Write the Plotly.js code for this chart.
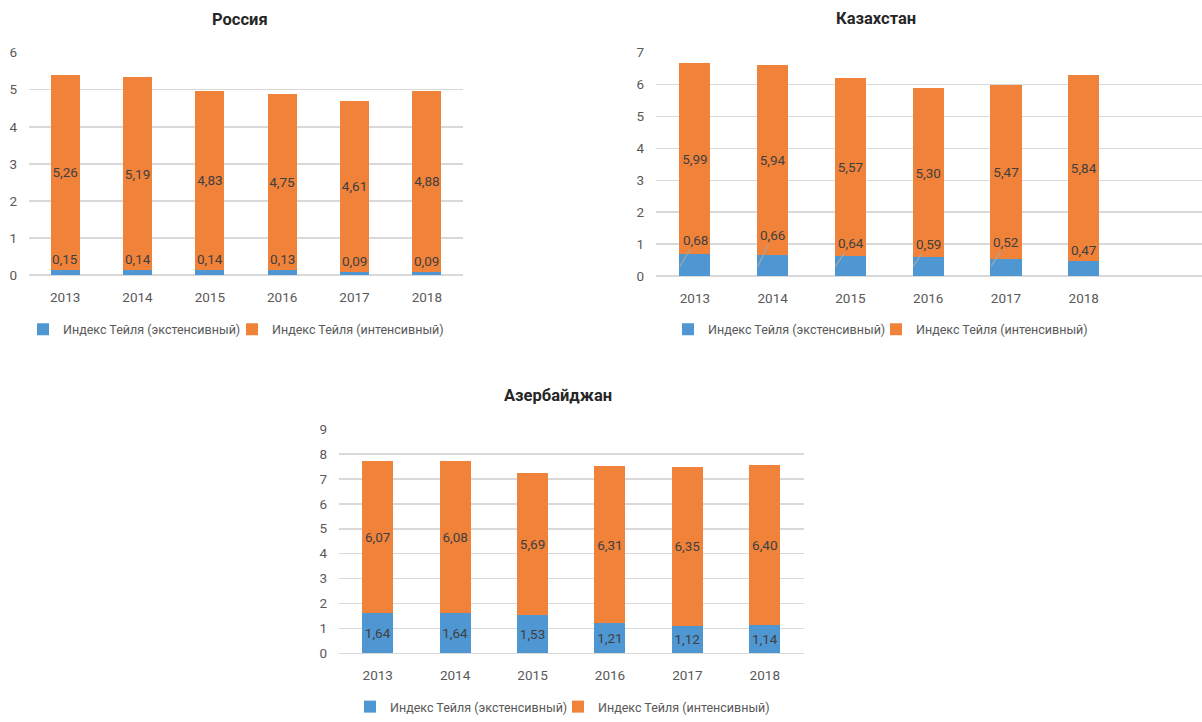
<!DOCTYPE html>
<html>
<head>
<meta charset="utf-8">
<script src="https://cdn.plot.ly/plotly-3.0.1.min.js"></script>
<style>html,body{margin:0;padding:0;background:#fff;}#chart{width:1202px;height:722px;}</style>
</head>
<body>
<div id="chart"></div>
<script>
// ---- data ----
const years = ["2013", "2014", "2015", "2016", "2017", "2018"];
const seriesNames = ["Индекс Тейля (экстенсивный)", "Индекс Тейля (интенсивный)"];
const chartTitles = ["Россия", "Казахстан", "Азербайджан"];
const russiaExt = [0.15, 0.14, 0.14, 0.13, 0.09, 0.09];
const russiaInt = [5.26, 5.19, 4.83, 4.75, 4.61, 4.88];
const kazakhExt = [0.68, 0.66, 0.64, 0.59, 0.52, 0.47];
const kazakhInt = [5.99, 5.94, 5.57, 5.30, 5.47, 5.84];
const azerExt = [1.64, 1.64, 1.53, 1.21, 1.12, 1.14];
const azerInt = [6.07, 6.08, 5.69, 6.31, 6.35, 6.40];

// ---- styles ----
const BLUE = '#4F97D2', ORANGE = '#F0823A';
const FONT = 'Roboto, "Open Sans", sans-serif';
const LABEL = '#404040', TICK = '#595959', GRID = '#D9D9D9';
const W = 1202, H = 722;
const LBL = 13.5, TCK = 13.5;
const kzLift = [26, 31, 23, 22, 24]; // px offsets of leader-line labels (Kazakhstan)

function fmt(v) { return v.toFixed(2).replace('.', ','); }

function barPair(ext, int, xa, ya, legs, extText) {
  return [
    {type: 'bar', name: seriesNames[0], x: years, y: ext, xaxis: xa, yaxis: ya, legend: legs[0],
     marker: {color: BLUE}, width: 0.4,
     texttemplate: extText ? '%{y:.2f}' : '', textposition: extText ? 'inside' : 'none',
     insidetextanchor: 'middle', textangle: 0, constraintext: 'none',
     insidetextfont: {family: FONT, size: LBL, color: LABEL}, hoverinfo: 'x+y'},
    {type: 'bar', name: seriesNames[1], x: years, y: int, xaxis: xa, yaxis: ya, legend: legs[1],
     marker: {color: ORANGE}, width: 0.4,
     texttemplate: '%{y:.2f}', textposition: 'inside', insidetextanchor: 'middle', textangle: 0,
     constraintext: 'none',
     insidetextfont: {family: FONT, size: LBL, color: LABEL}, hoverinfo: 'x+y'}
  ];
}

const data = [].concat(
  barPair(russiaExt, russiaInt, 'x', 'y', ['legend', 'legend2'], false),
  barPair(kazakhExt, kazakhInt, 'x2', 'y2', ['legend3', 'legend4'], false),
  barPair(azerExt, azerInt, 'x3', 'y3', ['legend5', 'legend6'], true)
);

function xax(domain, range, anchor) {
  return {domain: domain, anchor: anchor, type: 'category', range: range, showgrid: false, zeroline: false,
          showline: false, ticks: '', ticklabelstandoff: 12,
          tickfont: {family: FONT, size: TCK, color: TICK}, fixedrange: true};
}
function yax(domain, range, anchor) {
  return {domain: domain, anchor: anchor, range: range, dtick: 1, showgrid: true, gridcolor: GRID, gridwidth: 1.5,
          zeroline: true, zerolinecolor: GRID, zerolinewidth: 1.5, showline: false, ticks: '',
          ticklabelstandoff: 11, tickfont: {family: FONT, size: TCK, color: TICK}, fixedrange: true};
}

const annotations = [];
// titles
const titlePos = [[240, 20], [876, 19], [558, 398]];
chartTitles.forEach((t, i) => annotations.push({
  xref: 'paper', yref: 'paper', x: titlePos[i][0] / W, y: 1 - titlePos[i][1] / H,
  xanchor: 'center', yanchor: 'middle', showarrow: false, text: '<b>' + t + '</b>',
  font: {family: FONT, size: 16.5, color: '#262626'}
}));
// Russia small-segment labels
russiaExt.forEach((v, i) => annotations.push({
  xref: 'x', yref: 'y', x: i, y: v, yshift: 11, yanchor: 'middle', showarrow: false,
  text: fmt(v), font: {family: FONT, size: LBL, color: LABEL}
}));
// Kazakhstan small-segment labels with leader lines
kazakhExt.forEach((v, i) => {
  if (i < kzLift.length) {
    annotations.push({
      xref: 'x2', yref: 'y2', x: i - 0.19, y: 0.31, ax: 15, ay: -kzLift[i],
      showarrow: true, arrowhead: 0, arrowwidth: 1.2, arrowcolor: '#A6A6A6', standoff: 0,
      text: fmt(v), font: {family: FONT, size: LBL, color: LABEL}
    });
  } else {
    annotations.push({
      xref: 'x2', yref: 'y2', x: i, y: v, yshift: 11, yanchor: 'middle', showarrow: false,
      text: fmt(v), font: {family: FONT, size: LBL, color: LABEL}
    });
  }
});

function legend(textStart, yPx) {
  return {orientation: 'h', x: (textStart - 37) / W, y: 1 - yPx / H, xanchor: 'left', yanchor: 'middle',
          bgcolor: 'rgba(0,0,0,0)', font: {family: FONT, size: 12.5, color: TICK}, itemwidth: 30,
          itemclick: false, itemdoubleclick: false};
}

const layout = {
  width: W, height: H,
  margin: {l: 0, r: 0, t: 0, b: 0},
  paper_bgcolor: '#fff', plot_bgcolor: '#fff',
  barmode: 'stack', separators: ', ',
  showlegend: true,
  font: {family: FONT, color: TICK},
  xaxis: xax([29 / W, 463 / W], [-0.5, 5.5], 'y'),
  yaxis: yax([1 - 277 / H, 1 - 53 / H], [0, 6], 'x'),
  xaxis2: xax([656 / W, 1], [-0.5, 6.52], 'y2'),
  yaxis2: yax([1 - 278 / H, 1 - 53 / H], [0, 7], 'x2'),
  xaxis3: xax([339 / W, 803.5 / W], [-0.5, 5.5], 'y3'),
  yaxis3: yax([1 - 658 / H, 1 - 432 / H], [0, 9], 'x3'),
  legend: legend(60, 332),
  legend2: legend(269, 332),
  legend3: legend(705, 332),
  legend4: legend(913, 332),
  legend5: legend(387, 712),
  legend6: legend(595, 712),
  annotations: annotations
};

Plotly.newPlot('chart', data, layout, {displayModeBar: false, staticPlot: true});
</script>
</body>
</html>
